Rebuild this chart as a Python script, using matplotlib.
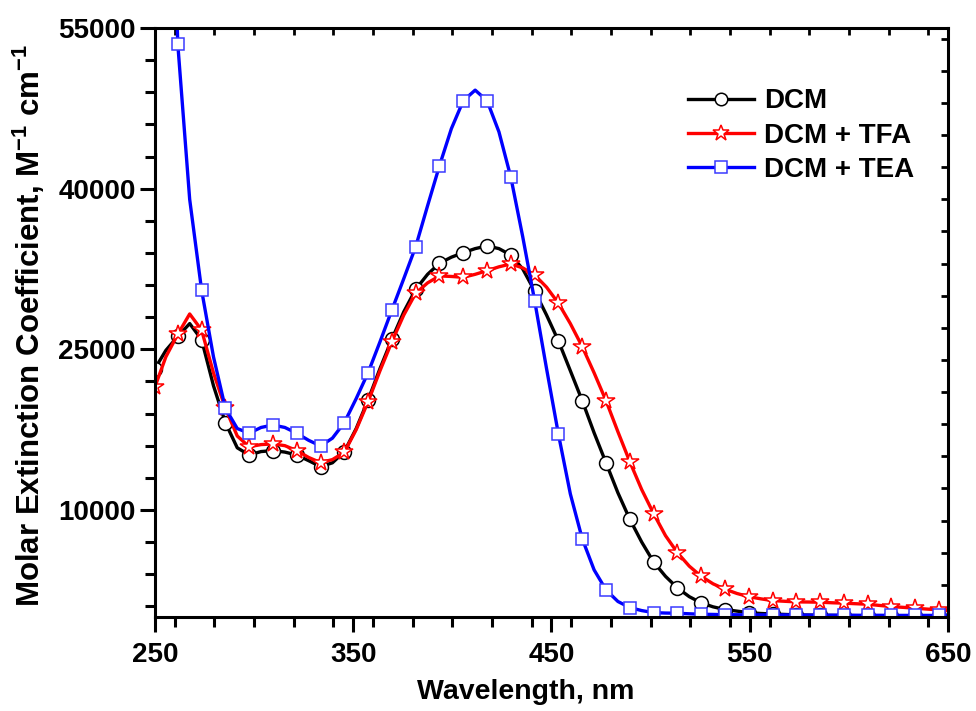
import numpy as np
import matplotlib
matplotlib.use("Agg")
import matplotlib.pyplot as plt
from matplotlib.ticker import MultipleLocator, FixedLocator

plt.rcParams["font.family"] = ["Liberation Sans", "DejaVu Sans"]
plt.rcParams["font.weight"] = "bold"
plt.rcParams["mathtext.fontset"] = "custom"
plt.rcParams["mathtext.rm"] = "Liberation Sans:bold"
plt.rcParams["mathtext.bf"] = "Liberation Sans:bold"
plt.rcParams["mathtext.default"] = "bf"

# wavelength grid (nm): markers sit on every second point
wavelength = np.concatenate([[250.0], np.arange(255.5, 646.0, 6.0), [650.0]])
marker_idx = [0] + list(range(2, 67, 2))

# molar extinction coefficient, units of 1000 M-1 cm-1
dcm = [23.2, 24.9, 26.2, 27.4, 25.9, 21.6, 18.15, 15.8, 15.13, 15.45,
       15.54, 15.4, 15.13, 14.6, 14.04, 14.4, 15.44, 17.6, 20.27, 23.2,
       25.94, 28.5, 30.6, 32.0, 33.03, 33.6, 34.02, 34.4, 34.65, 34.4,
       33.8, 32.5, 30.44, 28.2, 25.78, 23.0, 20.2, 17.2, 14.4, 11.6,
       9.13, 7.0, 5.14, 3.8, 2.72, 1.9, 1.32, 0.95, 0.7, 0.55,
       0.41, 0.33, 0.28, 0.24, 0.2, 0.18, 0.16, 0.15, 0.14, 0.13,
       0.12, 0.11, 0.1, 0.1, 0.09, 0.09, 0.08, 0.08]

dcm_tfa = [21.5, 24.3, 26.4, 28.3, 26.8, 22.8, 19.5, 16.9, 15.9, 16.1,
           16.16, 16.0, 15.54, 14.9, 14.42, 14.7, 15.38, 17.5, 20.11, 23.0,
           25.71, 28.2, 30.23, 31.2, 31.85, 31.8, 31.72, 32.0, 32.34, 32.7,
           32.97, 32.6, 31.94, 30.8, 29.3, 27.4, 25.25, 22.8, 20.2, 17.3,
           14.5, 11.9, 9.66, 7.6, 6.01, 4.75, 3.8, 3.1, 2.6, 2.2,
           1.9, 1.7, 1.53, 1.47, 1.41, 1.4, 1.38, 1.33, 1.29, 1.24,
           1.19, 1.08, 0.97, 0.9, 0.82, 0.74, 0.66, 0.6]

dcm_tea = [120.0, 90.0, 53.5, 39.0, 30.54, 24.3, 19.5, 17.6, 17.16, 17.7,
           17.93, 17.7, 17.16, 16.5, 15.97, 16.7, 18.15, 20.4, 22.82, 25.7,
           28.67, 31.6, 34.58, 38.4, 42.14, 45.6, 48.21, 49.2, 48.21, 45.3,
           41.06, 35.5, 29.54, 23.2, 17.07, 11.5, 7.31, 4.4, 2.53, 1.45,
           0.88, 0.6, 0.41, 0.37, 0.35, 0.3, 0.26, 0.24, 0.22, 0.21,
           0.2, 0.2, 0.19, 0.19, 0.18, 0.18, 0.17, 0.17, 0.17, 0.16,
           0.16, 0.16, 0.15, 0.15, 0.15, 0.15, 0.15, 0.15]

labels = ["DCM", "DCM + TFA", "DCM + TEA"]
x_ticks = [250, 350, 450, 550, 650]
y_ticks = [10000, 25000, 40000, 55000]

fig = plt.figure(figsize=(9.76, 7.11), dpi=100)
ax = fig.add_axes([0.1588, 0.1322, 0.8125, 0.8284])

series = [
	(dcm, "black", "o", "black", 10),
	(dcm_tfa, "red", "*", "red", 13),
	(dcm_tea, "blue", "s", "#3a3aff", 9),
]
for (vals, col, mk, mec, ms), lab in zip(series, labels):
	ax.plot(wavelength, np.array(vals) * 1000, color=col, lw=2.4,
			marker=mk, markevery=marker_idx, ms=ms, mfc="white",
			mec=mec, mew=1.1, label=lab)

ax.set_xlim(250, 650)
ax.set_ylim(0, 55000)
ax.xaxis.set_major_locator(FixedLocator(x_ticks))
ax.xaxis.set_minor_locator(MultipleLocator(20))
ax.yaxis.set_major_locator(FixedLocator(y_ticks))
ax.yaxis.set_minor_locator(MultipleLocator(3000, offset=1000))

for s in ax.spines.values():
	s.set_linewidth(2.2)
ax.tick_params(which="major", direction="out", length=11, width=2.2,
			   labelsize=20, pad=3, top=False, right=False)
ax.tick_params(axis="x", which="major", pad=7)
ax.tick_params(which="minor", direction="out", length=7, width=2.2,
			   top=False, right=False)

# mirrored short ticks on top and right
ax_t = ax.secondary_xaxis("top")
ax_t.xaxis.set_major_locator(MultipleLocator(20))
ax_t.tick_params(direction="in", length=5, width=2.0, labeltop=False)
ax_r = ax.secondary_yaxis("right")
ax_r.yaxis.set_major_locator(MultipleLocator(3000))
ax_r.tick_params(direction="in", length=5, width=2.0, labelright=False)

for t in ax.get_xticklabels() + ax.get_yticklabels():
	t.set_fontweight("bold")

ax.set_xlabel("Wavelength, nm", fontsize=20.5, fontweight="bold")
ax.xaxis.set_label_coords(0.467, -0.105)
ax.set_ylabel(r"Molar Extinction Coefficient, M$^{-1}$ cm$^{-1}$",
			  fontsize=22.5, fontweight="bold")
ax.yaxis.set_label_coords(-0.136, 0.495)

leg = ax.legend(loc="upper left", bbox_to_anchor=(0.64, 0.94), frameon=False,
				prop={"size": 20, "weight": "bold"}, handlelength=2.4,
				handletextpad=0.35, labelspacing=0.3, markerscale=0.9)

fig.savefig("out.png", dpi=100)
